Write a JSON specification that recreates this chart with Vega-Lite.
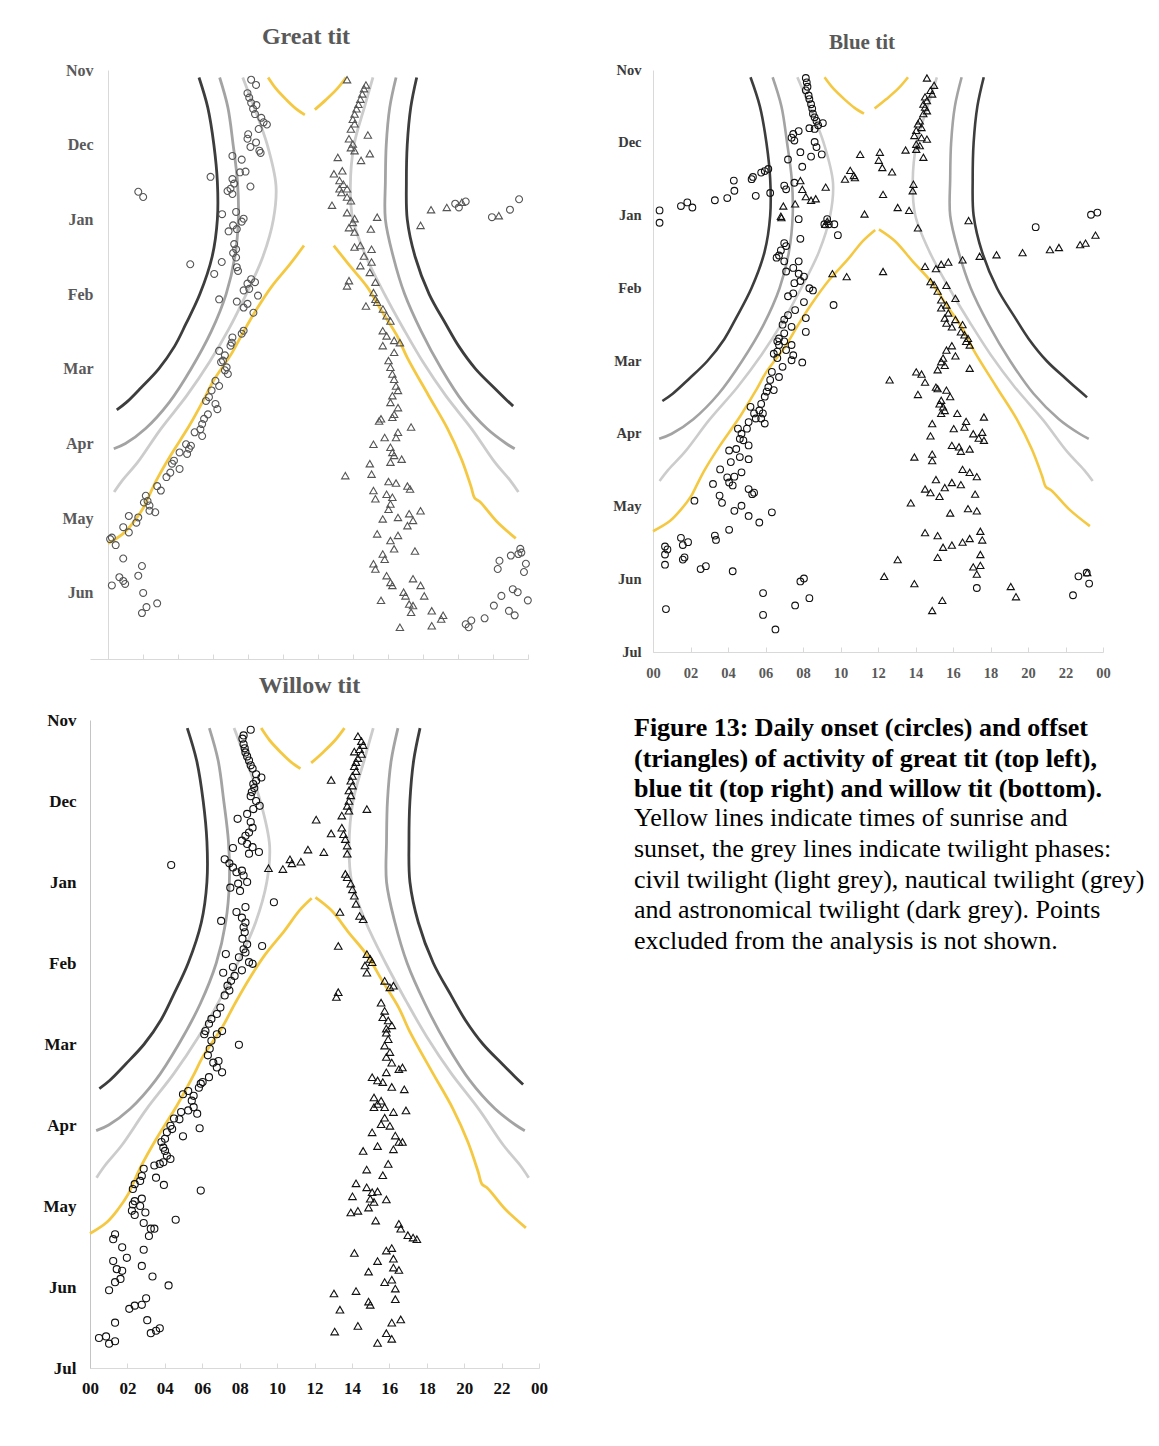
{
"$schema": "https://vega.github.io/schema/vega-lite/v6.json",
"background": "white",
"padding": {"left": 42, "top": 25, "right": 5, "bottom": 5},
"columns": 2,
"spacing": {"row": 61, "column": 114},
"bounds": "flush",
"align": "each",
"config": {
  "view": {"stroke": null},
  "axis": {"grid": false, "title": null, "labelFont": "Liberation Serif", "labelFontWeight": "bold", "domainColor": "#d9d9d9", "tickColor": "#d9d9d9", "labelFlush": false, "labelOverlap": false, "labelBound": false},
  "title": {"font": "Liberation Serif", "fontWeight": "bold", "color": "#595959"}
},
"datasets": {
"lines": [
{"l":"ad","t":"astro","m":0.1,"h":5.2},{"l":"ad","t":"astro","m":0.5,"h":5.7},{"l":"ad","t":"astro","m":1.0,"h":6.05},{"l":"ad","t":"astro","m":1.5,"h":6.25},{"l":"ad","t":"astro","m":2.0,"h":6.25},{"l":"ad","t":"astro","m":2.5,"h":5.95},{"l":"ad","t":"astro","m":3.0,"h":5.25},{"l":"ad","t":"astro","m":3.4,"h":4.45},{"l":"ad","t":"astro","m":3.7,"h":3.8},{"l":"ad","t":"astro","m":4.0,"h":2.9},{"l":"ad","t":"astro","m":4.25,"h":1.9},{"l":"ad","t":"astro","m":4.45,"h":1.05},{"l":"ad","t":"astro","m":4.55,"h":0.5},
{"l":"as","t":"astro","m":0.1,"h":17.64},{"l":"as","t":"astro","m":0.5,"h":17.3},{"l":"as","t":"astro","m":1.0,"h":17.1},{"l":"as","t":"astro","m":1.5,"h":17.05},{"l":"as","t":"astro","m":2.0,"h":17.1},{"l":"as","t":"astro","m":2.5,"h":17.55},{"l":"as","t":"astro","m":3.0,"h":18.35},{"l":"as","t":"astro","m":3.4,"h":19.3},{"l":"as","t":"astro","m":3.7,"h":20.05},{"l":"as","t":"astro","m":4.0,"h":21.0},{"l":"as","t":"astro","m":4.25,"h":22.05},{"l":"as","t":"astro","m":4.4,"h":22.7},{"l":"as","t":"astro","m":4.5,"h":23.15},
{"l":"nd","t":"naut","m":0.1,"h":6.38},{"l":"nd","t":"naut","m":0.5,"h":6.85},{"l":"nd","t":"naut","m":1.0,"h":7.15},{"l":"nd","t":"naut","m":1.5,"h":7.4},{"l":"nd","t":"naut","m":2.0,"h":7.45},{"l":"nd","t":"naut","m":2.5,"h":7.25},{"l":"nd","t":"naut","m":3.0,"h":6.75},{"l":"nd","t":"naut","m":3.5,"h":5.9},{"l":"nd","t":"naut","m":4.0,"h":4.75},{"l":"nd","t":"naut","m":4.45,"h":3.5},{"l":"nd","t":"naut","m":4.8,"h":2.15},{"l":"nd","t":"naut","m":5.0,"h":1.0},{"l":"nd","t":"naut","m":5.07,"h":0.33},
{"l":"ns","t":"naut","m":0.1,"h":16.46},{"l":"ns","t":"naut","m":0.5,"h":16.1},{"l":"ns","t":"naut","m":1.0,"h":15.9},{"l":"ns","t":"naut","m":1.5,"h":15.85},{"l":"ns","t":"naut","m":2.0,"h":15.85},{"l":"ns","t":"naut","m":2.5,"h":16.3},{"l":"ns","t":"naut","m":3.0,"h":16.95},{"l":"ns","t":"naut","m":3.5,"h":17.9},{"l":"ns","t":"naut","m":4.0,"h":19.05},{"l":"ns","t":"naut","m":4.45,"h":20.3},{"l":"ns","t":"naut","m":4.8,"h":21.65},{"l":"ns","t":"naut","m":5.0,"h":22.75},{"l":"ns","t":"naut","m":5.07,"h":23.24},
{"l":"cd","t":"civil","m":0.1,"h":7.7},{"l":"cd","t":"civil","m":0.5,"h":8.35},{"l":"cd","t":"civil","m":1.0,"h":9.1},{"l":"cd","t":"civil","m":1.55,"h":9.6},{"l":"cd","t":"civil","m":2.0,"h":9.45},{"l":"cd","t":"civil","m":2.5,"h":8.85},{"l":"cd","t":"civil","m":3.0,"h":7.9},{"l":"cd","t":"civil","m":3.47,"h":6.9},{"l":"cd","t":"civil","m":3.91,"h":5.8},{"l":"cd","t":"civil","m":4.36,"h":4.5},{"l":"cd","t":"civil","m":4.81,"h":3.0},{"l":"cd","t":"civil","m":5.25,"h":1.7},{"l":"cd","t":"civil","m":5.5,"h":0.8},{"l":"cd","t":"civil","m":5.65,"h":0.35},
{"l":"cs","t":"civil","m":0.1,"h":15.14},{"l":"cs","t":"civil","m":0.5,"h":14.65},{"l":"cs","t":"civil","m":1.0,"h":14.06},{"l":"cs","t":"civil","m":1.55,"h":13.85},{"l":"cs","t":"civil","m":2.0,"h":13.99},{"l":"cs","t":"civil","m":2.5,"h":14.75},{"l":"cs","t":"civil","m":3.0,"h":15.8},{"l":"cs","t":"civil","m":3.47,"h":16.9},{"l":"cs","t":"civil","m":3.91,"h":18.0},{"l":"cs","t":"civil","m":4.36,"h":19.3},{"l":"cs","t":"civil","m":4.81,"h":20.8},{"l":"cs","t":"civil","m":5.25,"h":22.1},{"l":"cs","t":"civil","m":5.5,"h":23.0},{"l":"cs","t":"civil","m":5.65,"h":23.45},
{"l":"rt","t":"sun","m":0.1,"h":9.15},{"l":"rt","t":"sun","m":0.25,"h":9.6},{"l":"rt","t":"sun","m":0.4,"h":10.2},{"l":"rt","t":"sun","m":0.52,"h":10.75},{"l":"rt","t":"sun","m":0.6,"h":11.25},
{"l":"st","t":"sun","m":0.1,"h":13.6},{"l":"st","t":"sun","m":0.25,"h":13.1},{"l":"st","t":"sun","m":0.4,"h":12.45},{"l":"st","t":"sun","m":0.53,"h":11.82},
{"l":"rb","t":"sun","m":2.2,"h":11.85},{"l":"rb","t":"sun","m":2.35,"h":11.2},{"l":"rb","t":"sun","m":2.6,"h":10.4},{"l":"rb","t":"sun","m":2.9,"h":9.35},{"l":"rb","t":"sun","m":3.2,"h":8.5},{"l":"rb","t":"sun","m":3.5,"h":7.75},{"l":"rb","t":"sun","m":3.8,"h":7.05},{"l":"rb","t":"sun","m":4.15,"h":6.05},{"l":"rb","t":"sun","m":4.4,"h":5.5},{"l":"rb","t":"sun","m":4.76,"h":4.65},{"l":"rb","t":"sun","m":5.17,"h":3.55},{"l":"rb","t":"sun","m":5.5,"h":2.75},{"l":"rb","t":"sun","m":5.75,"h":2.25},{"l":"rb","t":"sun","m":5.85,"h":2.05},{"l":"rb","t":"sun","m":6.04,"h":1.5},{"l":"rb","t":"sun","m":6.2,"h":0.9},{"l":"rb","t":"sun","m":6.34,"h":0.0},
{"l":"sb","t":"sun","m":2.19,"h":12.05},{"l":"sb","t":"sun","m":2.35,"h":12.9},{"l":"sb","t":"sun","m":2.63,"h":13.85},{"l":"sb","t":"sun","m":2.9,"h":14.8},{"l":"sb","t":"sun","m":3.23,"h":15.65},{"l":"sb","t":"sun","m":3.55,"h":16.5},{"l":"sb","t":"sun","m":3.85,"h":17.1},{"l":"sb","t":"sun","m":4.35,"h":18.3},{"l":"sb","t":"sun","m":4.8,"h":19.4},{"l":"sb","t":"sun","m":5.21,"h":20.2},{"l":"sb","t":"sun","m":5.58,"h":20.75},{"l":"sb","t":"sun","m":5.73,"h":20.95},{"l":"sb","t":"sun","m":5.78,"h":21.25},{"l":"sb","t":"sun","m":6.04,"h":22.2},{"l":"sb","t":"sun","m":6.27,"h":23.3}
],
"g_on": [
{"h":8.18,"m":0.13},{"h":8.46,"m":0.2},{"h":7.97,"m":0.31},{"h":8.07,"m":0.37},{"h":8.18,"m":0.44},{"h":8.48,"m":0.47},{"h":8.29,"m":0.52},{"h":8.4,"m":0.59},{"h":8.76,"m":0.64},{"h":8.89,"m":0.7},{"h":9.08,"m":0.73},{"h":8.61,"m":0.79},{"h":8.01,"m":0.86},{"h":7.97,"m":0.92},{"h":8.46,"m":0.97},{"h":8.14,"m":1.03},{"h":8.65,"m":1.08},{"h":8.72,"m":1.11},{"h":7.11,"m":1.15},{"h":7.64,"m":1.2},{"h":7.86,"m":1.36},{"h":7.54,"m":1.37},{"h":5.86,"m":1.43},{"h":7.11,"m":1.46},{"h":7.21,"m":1.52},{"h":8.14,"m":1.56},{"h":7.0,"m":1.59},{"h":6.83,"m":1.62},{"h":7.11,"m":1.66},{"h":1.73,"m":1.63},{"h":2.01,"m":1.7},{"h":7.32,"m":1.9},{"h":6.52,"m":1.93},{"h":7.75,"m":1.99},{"h":7.15,"m":2.08},{"h":7.64,"m":2.03},{"h":6.89,"m":2.16},{"h":7.36,"m":2.13},{"h":7.21,"m":2.33},{"h":7.32,"m":2.4},{"h":7.15,"m":2.45},{"h":7.32,"m":2.51},{"h":4.7,"m":2.6},{"h":6.5,"m":2.57},{"h":7.36,"m":2.64},{"h":7.43,"m":2.69},{"h":6.07,"m":2.73},{"h":8.18,"m":2.8},{"h":7.97,"m":2.86},{"h":8.4,"m":2.84},{"h":8.07,"m":2.93},{"h":7.75,"m":2.95},{"h":8.57,"m":3.02},{"h":6.35,"m":3.07},{"h":7.36,"m":3.1},{"h":7.97,"m":3.13},{"h":7.75,"m":3.18},{"h":8.31,"m":3.25},
{"h":19.84,"m":1.79},{"h":20.05,"m":1.84},{"h":20.44,"m":1.76},{"h":21.94,"m":1.97},{"h":22.97,"m":1.87},{"h":23.49,"m":1.73},
{"h":7.75,"m":3.49},{"h":7.64,"m":3.53},{"h":7.11,"m":3.58},{"h":7.07,"m":3.65},{"h":7.0,"m":3.69},{"h":6.35,"m":3.76},{"h":6.68,"m":3.82},{"h":6.57,"m":3.89},{"h":6.46,"m":3.91},{"h":6.78,"m":3.98},{"h":6.68,"m":4.02},{"h":6.85,"m":4.07},{"h":6.14,"m":4.16},{"h":6.35,"m":4.23},{"h":5.92,"m":4.29},{"h":5.77,"m":4.38},{"h":5.6,"m":4.43},{"h":6.14,"m":4.47},{"h":6.25,"m":4.54},{"h":5.71,"m":4.61},{"h":5.49,"m":4.67},{"h":5.38,"m":4.74},{"h":5.28,"m":4.81},{"h":4.95,"m":4.85},{"h":5.38,"m":4.9},{"h":4.74,"m":5.03},{"h":4.46,"m":5.01},{"h":4.63,"m":5.07},{"h":4.52,"m":5.14},{"h":4.09,"m":5.12},{"h":3.77,"m":5.23},{"h":3.66,"m":5.27},{"h":4.09,"m":5.34},{"h":3.56,"m":5.39},{"h":3.34,"m":5.45},{"h":2.81,"m":5.57},{"h":3.02,"m":5.63},{"h":2.16,"m":5.7},{"h":2.26,"m":5.77},{"h":2.05,"m":5.79},{"h":2.37,"m":5.83},{"h":2.37,"m":5.9},{"h":2.7,"m":5.92},{"h":1.73,"m":5.99},{"h":1.62,"m":6.06},{"h":1.19,"m":5.97},{"h":0.87,"m":6.12},{"h":1.19,"m":6.19},{"h":0.22,"m":6.26},{"h":0.12,"m":6.28},{"h":0.44,"m":6.36},{"h":0.87,"m":6.54},{"h":1.94,"m":6.64},{"h":1.73,"m":6.77},{"h":0.65,"m":6.79},{"h":0.87,"m":6.84},{"h":0.22,"m":6.9},{"h":0.98,"m":6.88},{"h":2.01,"m":7.0},{"h":2.81,"m":7.14},{"h":2.2,"m":7.19},{"h":1.94,"m":7.27},
{"h":23.56,"m":6.41},{"h":23.62,"m":6.46},{"h":23.45,"m":6.48},{"h":23.02,"m":6.5},{"h":22.37,"m":6.57},{"h":22.27,"m":6.68},{"h":23.88,"m":6.61},{"h":23.77,"m":6.72},{"h":22.48,"m":7.04},{"h":22.05,"m":7.17},{"h":23.13,"m":6.95},{"h":23.41,"m":6.99},{"h":23.99,"m":7.1},{"h":22.91,"m":7.24},{"h":23.24,"m":7.3},{"h":21.52,"m":7.34},{"h":20.76,"m":7.37},{"h":20.44,"m":7.42},{"h":20.61,"m":7.46}
],
"g_off": [
{"h":13.66,"m":0.13},{"h":14.74,"m":0.2},{"h":14.63,"m":0.25},{"h":14.53,"m":0.32},{"h":14.42,"m":0.39},{"h":14.31,"m":0.46},{"h":14.2,"m":0.52},{"h":14.09,"m":0.59},{"h":13.99,"m":0.66},{"h":14.09,"m":0.72},{"h":13.88,"m":0.79},{"h":13.77,"m":0.92},{"h":13.99,"m":0.99},{"h":13.88,"m":1.04},{"h":14.09,"m":1.08},{"h":14.85,"m":0.87},{"h":14.96,"m":1.12},{"h":14.46,"m":1.21},{"h":13.13,"m":1.17},{"h":12.91,"m":1.39},{"h":13.39,"m":1.35},{"h":13.23,"m":1.48},{"h":13.45,"m":1.53},{"h":13.23,"m":1.59},{"h":13.66,"m":1.59},{"h":13.34,"m":1.64},{"h":13.66,"m":1.7},{"h":13.88,"m":1.75},{"h":12.8,"m":1.81},{"h":13.66,"m":1.91},{"h":14.09,"m":1.99},{"h":15.38,"m":1.97},{"h":13.99,"m":2.04},{"h":13.77,"m":2.11},{"h":14.09,"m":2.17},{"h":15.02,"m":2.13},{"h":14.42,"m":2.35},{"h":14.09,"m":2.37},{"h":14.63,"m":2.49},{"h":15.06,"m":2.4},{"h":15.06,"m":2.57},{"h":14.42,"m":2.62},{"h":14.96,"m":2.71},{"h":15.28,"m":2.84},{"h":13.77,"m":2.82},{"h":13.66,"m":2.89},{"h":15.17,"m":2.98},{"h":15.28,"m":3.07},{"h":14.74,"m":3.16},{"h":15.38,"m":3.11},{"h":15.71,"m":3.2},{"h":15.92,"m":3.29},{"h":16.14,"m":3.36},
{"h":17.86,"m":2.08},{"h":18.46,"m":1.87},{"h":19.36,"m":1.84},{"h":20.22,"m":1.77},{"h":22.33,"m":1.95},
{"h":15.7,"m":3.49},{"h":15.92,"m":3.56},{"h":16.35,"m":3.62},{"h":16.68,"m":3.65},{"h":15.7,"m":3.69},{"h":16.35,"m":3.78},{"h":16.03,"m":3.89},{"h":16.14,"m":3.98},{"h":16.25,"m":4.07},{"h":16.35,"m":4.14},{"h":16.46,"m":4.23},{"h":16.57,"m":4.29},{"h":16.25,"m":4.36},{"h":16.14,"m":4.45},{"h":16.57,"m":4.52},{"h":16.35,"m":4.61},{"h":16.25,"m":4.65},{"h":15.6,"m":4.67},{"h":15.49,"m":4.7},{"h":17.32,"m":4.78},{"h":16.57,"m":4.85},{"h":16.46,"m":4.92},{"h":15.81,"m":4.92},{"h":15.17,"m":5.01},{"h":16.14,"m":5.05},{"h":16.25,"m":5.12},{"h":16.35,"m":5.16},{"h":16.78,"m":5.21},{"h":16.14,"m":5.25},{"h":14.96,"m":5.27},{"h":15.06,"m":5.41},{"h":13.56,"m":5.43},{"h":16.03,"m":5.51},{"h":16.46,"m":5.53},{"h":17.11,"m":5.57},{"h":17.26,"m":5.61},{"h":15.17,"m":5.63},{"h":15.92,"m":5.68},{"h":16.25,"m":5.72},{"h":15.28,"m":5.74},{"h":16.14,"m":5.81},{"h":16.03,"m":5.88},{"h":17.86,"m":5.9},{"h":17.21,"m":5.94},{"h":16.57,"m":5.99},{"h":15.7,"m":6.01},{"h":17.43,"m":6.03},{"h":17.11,"m":6.1},{"h":15.38,"m":6.21},{"h":16.57,"m":6.23},{"h":16.14,"m":6.3},{"h":16.35,"m":6.41},{"h":17.54,"m":6.44},{"h":15.7,"m":6.48},{"h":15.81,"m":6.55},{"h":15.17,"m":6.61},{"h":15.28,"m":6.68},{"h":15.92,"m":6.77},{"h":16.14,"m":6.86},{"h":16.25,"m":6.9},{"h":17.43,"m":6.81},{"h":17.86,"m":6.9},{"h":18.07,"m":7.04},{"h":16.89,"m":6.99},{"h":17.0,"m":7.04},{"h":17.21,"m":7.15},{"h":17.43,"m":7.17},{"h":17.32,"m":7.26},{"h":18.5,"m":7.24},{"h":19.15,"m":7.3},{"h":19.04,"m":7.35},{"h":18.5,"m":7.44},{"h":16.68,"m":7.46},{"h":15.6,"m":7.1}
],
"b_on": [
{"h":8.15,"m":0.11},{"h":8.2,"m":0.17},{"h":8.24,"m":0.23},{"h":8.15,"m":0.28},{"h":8.3,"m":0.35},{"h":8.34,"m":0.4},{"h":8.43,"m":0.47},{"h":8.49,"m":0.53},{"h":8.53,"m":0.6},{"h":8.62,"m":0.65},{"h":8.72,"m":0.7},{"h":9.06,"m":0.73},{"h":8.81,"m":0.76},{"h":8.34,"m":0.8},{"h":8.62,"m":0.81},{"h":7.77,"m":0.84},{"h":7.48,"m":0.88},{"h":7.39,"m":0.93},{"h":7.54,"m":0.97},{"h":8.62,"m":0.99},{"h":8.72,"m":1.06},{"h":9.0,"m":1.16},{"h":8.43,"m":1.19},{"h":7.86,"m":1.13},{"h":7.2,"m":1.23},{"h":7.96,"m":1.33},{"h":7.54,"m":1.55},{"h":7.0,"m":1.59},{"h":7.1,"m":1.64},{"h":6.25,"m":1.69},{"h":5.48,"m":1.73},{"h":4.31,"m":1.52},{"h":4.34,"m":1.66},{"h":5.26,"m":1.5},{"h":5.33,"m":1.47},{"h":5.77,"m":1.41},{"h":5.96,"m":1.39},{"h":6.15,"m":1.36},{"h":3.96,"m":1.76},{"h":3.3,"m":1.79},{"h":2.1,"m":1.89},{"h":1.83,"m":1.82},{"h":1.49,"m":1.87},{"h":0.35,"m":1.93},{"h":0.35,"m":2.1},{"h":7.77,"m":2.05},{"h":9.29,"m":2.05},{"h":9.14,"m":2.12},{"h":9.38,"m":2.12},{"h":9.67,"m":2.12},{"h":9.86,"m":2.27},{"h":7.86,"m":2.32},{"h":7.0,"m":2.38},{"h":7.1,"m":2.42},{"h":6.82,"m":2.48},{"h":6.72,"m":2.55},{"h":6.59,"m":2.58},{"h":7.0,"m":2.63},{"h":7.77,"m":2.63},{"h":7.48,"m":2.72},{"h":7.1,"m":2.77},{"h":7.77,"m":2.8},{"h":8.05,"m":2.84},{"h":7.86,"m":2.9},{"h":7.54,"m":2.93},{"h":8.53,"m":3.03},{"h":8.34,"m":3.0},{"h":7.48,"m":3.07},{"h":7.2,"m":3.11},{"h":8.05,"m":3.19},{"h":9.63,"m":3.23},{"h":7.58,"m":3.3},{"h":7.2,"m":3.37},{"h":7.0,"m":3.43},{"h":6.91,"m":3.5},{"h":7.39,"m":3.53},{"h":8.15,"m":3.6},{"h":7.0,"m":3.62},{"h":6.72,"m":3.69},{"h":7.0,"m":3.73},{"h":7.39,"m":3.78},{"h":8.15,"m":3.41},
{"h":20.41,"m":2.16},{"h":23.36,"m":1.99},{"h":23.7,"m":1.96},
{"h":6.63,"m":3.73},{"h":6.72,"m":3.78},{"h":7.1,"m":3.85},{"h":7.48,"m":3.92},{"h":6.44,"m":3.9},{"h":6.63,"m":3.96},{"h":7.39,"m":3.99},{"h":7.96,"m":4.02},{"h":6.34,"m":4.15},{"h":6.25,"m":4.26},{"h":6.15,"m":4.36},{"h":6.06,"m":4.42},{"h":6.44,"m":4.4},{"h":6.72,"m":4.22},{"h":6.91,"m":4.08},{"h":6.63,"m":3.87},{"h":5.96,"m":4.49},{"h":5.77,"m":4.59},{"h":5.67,"m":4.68},{"h":5.39,"m":4.72},{"h":5.2,"m":4.63},{"h":5.86,"m":4.72},{"h":5.77,"m":4.79},{"h":5.48,"m":4.79},{"h":5.1,"m":4.84},{"h":5.96,"m":4.86},{"h":5.01,"m":4.93},{"h":4.53,"m":4.93},{"h":4.72,"m":5.0},{"h":4.63,"m":5.07},{"h":4.82,"m":5.09},{"h":5.1,"m":5.16},{"h":4.06,"m":5.23},{"h":4.44,"m":5.21},{"h":4.15,"m":5.39},{"h":4.63,"m":5.32},{"h":5.1,"m":5.35},{"h":3.58,"m":5.49},{"h":3.96,"m":5.6},{"h":4.34,"m":5.59},{"h":4.25,"m":5.71},{"h":4.06,"m":5.67},{"h":4.72,"m":5.53},{"h":5.1,"m":5.76},{"h":5.29,"m":5.83},{"h":5.39,"m":5.81},{"h":3.2,"m":5.69},{"h":3.55,"m":5.85},{"h":3.68,"m":5.95},{"h":2.21,"m":5.92},{"h":4.34,"m":6.06},{"h":4.72,"m":5.99},{"h":5.1,"m":6.13},{"h":5.67,"m":6.22},{"h":6.34,"m":6.08},{"h":4.06,"m":6.32},{"h":1.49,"m":6.43},{"h":1.59,"m":6.53},{"h":1.87,"m":6.49},{"h":0.64,"m":6.55},{"h":0.77,"m":6.59},{"h":0.64,"m":6.66},{"h":0.64,"m":6.8},{"h":1.68,"m":6.7},{"h":1.59,"m":6.73},{"h":3.3,"m":6.4},{"h":3.36,"m":6.46},{"h":2.54,"m":6.86},{"h":2.82,"m":6.82},{"h":4.25,"m":6.89},{"h":5.87,"m":7.19},{"h":8.05,"m":6.99},{"h":7.86,"m":7.03},{"h":8.34,"m":7.26},{"h":7.58,"m":7.36},{"h":5.87,"m":7.49},{"h":6.53,"m":7.69},{"h":0.69,"m":7.41},
{"h":22.69,"m":6.96},{"h":22.4,"m":7.22},{"h":23.26,"m":7.06},{"h":23.13,"m":6.91},{"h":17.27,"m":7.12}
],
"b_off": [
{"h":14.61,"m":0.11},{"h":14.99,"m":0.21},{"h":14.8,"m":0.28},{"h":14.89,"m":0.33},{"h":14.51,"m":0.37},{"h":14.61,"m":0.42},{"h":14.42,"m":0.47},{"h":14.51,"m":0.51},{"h":14.61,"m":0.56},{"h":14.42,"m":0.6},{"h":14.23,"m":0.7},{"h":14.13,"m":0.74},{"h":14.32,"m":0.79},{"h":14.04,"m":0.83},{"h":13.94,"m":0.9},{"h":14.32,"m":0.93},{"h":14.61,"m":0.95},{"h":14.04,"m":1.02},{"h":14.23,"m":1.04},{"h":14.04,"m":1.09},{"h":14.42,"m":1.2},{"h":13.47,"m":1.1},{"h":12.1,"m":1.13},{"h":12.04,"m":1.24},{"h":12.23,"m":1.34},{"h":12.75,"m":1.4},{"h":11.05,"m":1.16},{"h":10.52,"m":1.38},{"h":10.24,"m":1.5},{"h":10.71,"m":1.45},{"h":10.77,"m":1.48},{"h":9.21,"m":1.61},{"h":7.86,"m":1.52},{"h":7.96,"m":1.64},{"h":8.15,"m":1.74},{"h":8.43,"m":1.79},{"h":8.68,"m":1.77},{"h":6.95,"m":1.87},{"h":7.58,"m":1.84},{"h":6.82,"m":2.01},{"h":6.85,"m":2.03},{"h":9.19,"m":2.12},{"h":9.29,"m":2.08},{"h":11.28,"m":1.98},{"h":12.27,"m":1.71},{"h":13.05,"m":1.89},{"h":13.66,"m":1.93},{"h":13.85,"m":1.66},{"h":13.89,"m":1.57},{"h":14.13,"m":2.17},{"h":16.83,"m":2.07},{"h":14.51,"m":2.7},{"h":15.09,"m":2.73},{"h":15.37,"m":2.67},{"h":15.75,"m":2.64},{"h":16.51,"m":2.61},{"h":17.42,"m":2.56},{"h":18.32,"m":2.54},{"h":19.71,"m":2.51},{"h":21.17,"m":2.47},{"h":21.65,"m":2.44},{"h":22.78,"m":2.4},{"h":23.07,"m":2.38},{"h":23.6,"m":2.27},{"h":9.57,"m":2.8},{"h":10.33,"m":2.84},{"h":12.27,"m":2.77},{"h":14.8,"m":2.91},{"h":14.99,"m":2.95},{"h":15.65,"m":2.96},{"h":15.18,"m":3.04},{"h":15.37,"m":3.16},{"h":15.65,"m":3.23},{"h":16.13,"m":3.14},{"h":15.37,"m":3.27},{"h":15.75,"m":3.34},{"h":15.56,"m":3.41},{"h":15.65,"m":3.48},{"h":15.94,"m":3.53},{"h":16.13,"m":3.43},{"h":16.51,"m":3.5},{"h":16.42,"m":3.6},{"h":16.61,"m":3.64},{"h":16.8,"m":3.69},{"h":16.89,"m":3.78},
{"h":16.7,"m":3.73},{"h":15.94,"m":3.79},{"h":15.65,"m":3.85},{"h":16.13,"m":3.93},{"h":15.47,"m":3.96},{"h":15.37,"m":4.01},{"h":15.56,"m":4.06},{"h":15.18,"m":4.12},{"h":16.89,"m":4.1},{"h":14.04,"m":4.15},{"h":14.32,"m":4.18},{"h":14.51,"m":4.29},{"h":15.09,"m":4.36},{"h":15.18,"m":4.38},{"h":14.13,"m":4.46},{"h":15.65,"m":4.4},{"h":15.85,"m":4.49},{"h":15.37,"m":4.54},{"h":15.28,"m":4.59},{"h":15.47,"m":4.63},{"h":15.56,"m":4.68},{"h":15.37,"m":4.72},{"h":14.89,"m":4.86},{"h":16.23,"m":4.72},{"h":16.7,"m":4.83},{"h":17.65,"m":4.77},{"h":16.04,"m":4.93},{"h":16.61,"m":4.91},{"h":17.08,"m":5.0},{"h":17.56,"m":4.98},{"h":17.37,"m":5.06},{"h":17.65,"m":5.09},{"h":14.8,"m":5.03},{"h":15.94,"m":5.16},{"h":16.32,"m":5.18},{"h":16.89,"m":5.21},{"h":16.42,"m":5.24},{"h":13.94,"m":5.32},{"h":14.89,"m":5.28},{"h":14.89,"m":5.37},{"h":16.51,"m":5.49},{"h":16.89,"m":5.53},{"h":17.27,"m":5.59},{"h":15.09,"m":5.63},{"h":15.94,"m":5.67},{"h":16.42,"m":5.7},{"h":14.51,"m":5.76},{"h":14.8,"m":5.81},{"h":15.56,"m":5.74},{"h":15.28,"m":5.86},{"h":17.18,"m":5.83},{"h":13.75,"m":5.95},{"h":15.85,"m":6.09},{"h":16.8,"m":6.03},{"h":17.27,"m":6.06},{"h":14.51,"m":6.36},{"h":15.18,"m":6.4},{"h":17.46,"m":6.34},{"h":17.56,"m":6.46},{"h":16.89,"m":6.44},{"h":16.51,"m":6.49},{"h":15.94,"m":6.53},{"h":15.47,"m":6.56},{"h":15.18,"m":6.7},{"h":17.46,"m":6.66},{"h":17.08,"m":6.83},{"h":17.46,"m":6.81},{"h":17.27,"m":6.93},{"h":13.05,"m":6.73},{"h":12.33,"m":6.96},{"h":13.94,"m":7.06},{"h":19.08,"m":7.1},{"h":19.36,"m":7.24},{"h":15.43,"m":7.29},{"h":14.89,"m":7.43},{"h":23.16,"m":6.91},{"h":12.62,"m":4.26}
],
"w_on": [
{"h":8.59,"m":0.12},{"h":8.21,"m":0.19},{"h":8.15,"m":0.23},{"h":8.21,"m":0.3},{"h":8.27,"m":0.35},{"h":8.31,"m":0.4},{"h":8.4,"m":0.45},{"h":8.5,"m":0.5},{"h":8.59,"m":0.56},{"h":8.69,"m":0.6},{"h":8.88,"m":0.67},{"h":9.16,"m":0.71},{"h":8.88,"m":0.75},{"h":8.73,"m":0.79},{"h":8.78,"m":0.84},{"h":8.65,"m":0.89},{"h":8.59,"m":0.94},{"h":8.88,"m":1.0},{"h":9.07,"m":1.06},{"h":8.73,"m":1.1},{"h":8.4,"m":1.16},{"h":7.89,"m":1.22},{"h":8.59,"m":1.26},{"h":8.69,"m":1.33},{"h":8.5,"m":1.39},{"h":8.31,"m":1.43},{"h":8.12,"m":1.49},{"h":8.4,"m":1.53},{"h":8.69,"m":1.57},{"h":9.03,"m":1.63},{"h":8.5,"m":1.65},{"h":7.64,"m":1.58},{"h":7.2,"m":1.72},{"h":7.45,"m":1.77},{"h":7.64,"m":1.82},{"h":7.83,"m":1.88},{"h":8.12,"m":1.86},{"h":8.21,"m":1.92},{"h":8.4,"m":2.0},{"h":7.92,"m":2.02},{"h":7.5,"m":2.07},{"h":8.02,"m":2.11},{"h":4.34,"m":1.79},{"h":8.31,"m":2.31},{"h":7.83,"m":2.37},{"h":8.12,"m":2.44},{"h":8.31,"m":2.5},{"h":8.21,"m":2.56},{"h":8.27,"m":2.62},{"h":8.15,"m":2.7},{"h":8.4,"m":2.77},{"h":8.21,"m":2.83},{"h":8.31,"m":2.87},{"h":7.96,"m":2.93},{"h":8.5,"m":2.99},{"h":8.69,"m":3.01},{"h":7.26,"m":2.89},{"h":7.64,"m":3.05},{"h":7.12,"m":3.12},{"h":8.12,"m":3.09},{"h":7.73,"m":3.16},{"h":7.54,"m":3.22},{"h":7.35,"m":3.28},{"h":7.45,"m":3.34},{"h":7.2,"m":3.4},{"h":6.97,"m":3.55},{"h":6.78,"m":3.63},{"h":6.49,"m":3.69},{"h":6.36,"m":3.75},{"h":6.17,"m":3.84},{"h":7.01,"m":2.48},{"h":9.83,"m":2.25},{"h":9.2,"m":2.79},
{"h":7.06,"m":3.84},{"h":6.78,"m":3.88},{"h":6.11,"m":3.88},{"h":6.49,"m":3.96},{"h":6.4,"m":4.06},{"h":6.3,"m":4.14},{"h":6.59,"m":4.23},{"h":6.87,"m":4.21},{"h":6.78,"m":4.29},{"h":7.06,"m":4.35},{"h":7.96,"m":4.01},{"h":6.36,"m":4.41},{"h":6.02,"m":4.47},{"h":5.92,"m":4.49},{"h":5.82,"m":4.54},{"h":4.97,"m":4.62},{"h":5.25,"m":4.58},{"h":5.54,"m":4.64},{"h":5.44,"m":4.7},{"h":5.54,"m":4.78},{"h":5.25,"m":4.82},{"h":5.73,"m":4.86},{"h":4.87,"m":4.84},{"h":4.78,"m":4.93},{"h":4.49,"m":4.92},{"h":4.3,"m":5.01},{"h":4.39,"m":5.05},{"h":4.11,"m":5.09},{"h":4.01,"m":5.17},{"h":3.82,"m":5.21},{"h":3.92,"m":5.28},{"h":4.01,"m":5.32},{"h":4.11,"m":5.38},{"h":4.3,"m":5.42},{"h":3.92,"m":5.46},{"h":3.73,"m":5.48},{"h":3.44,"m":5.5},{"h":3.53,"m":5.65},{"h":3.95,"m":5.74},{"h":4.97,"m":5.14},{"h":5.86,"m":5.04},{"h":5.92,"m":5.81},{"h":2.87,"m":5.54},{"h":2.77,"m":5.63},{"h":2.68,"m":5.69},{"h":2.39,"m":5.73},{"h":2.29,"m":5.79},{"h":2.77,"m":5.91},{"h":2.39,"m":5.94},{"h":2.29,"m":5.98},{"h":2.68,"m":6.0},{"h":2.24,"m":6.06},{"h":2.39,"m":6.11},{"h":2.96,"m":6.08},{"h":2.87,"m":6.21},{"h":3.25,"m":6.28},{"h":3.15,"m":6.37},{"h":3.44,"m":6.28},{"h":4.58,"m":6.17},{"h":1.34,"m":6.35},{"h":1.24,"m":6.41},{"h":1.72,"m":6.51},{"h":2.87,"m":6.54},{"h":1.97,"m":6.64},{"h":1.24,"m":6.68},{"h":1.43,"m":6.78},{"h":1.72,"m":6.8},{"h":1.34,"m":6.94},{"h":1.63,"m":6.9},{"h":1.02,"m":7.04},{"h":2.77,"m":6.74},{"h":3.34,"m":6.87},{"h":4.2,"m":6.98},{"h":3.0,"m":7.14},{"h":2.77,"m":7.22},{"h":2.1,"m":7.27},{"h":2.39,"m":7.23},{"h":3.06,"m":7.41},{"h":3.25,"m":7.57},{"h":3.53,"m":7.54},{"h":3.73,"m":7.51},{"h":1.34,"m":7.44},{"h":0.48,"m":7.63},{"h":0.86,"m":7.61},{"h":1.02,"m":7.7},{"h":1.34,"m":7.67}
],
"w_off": [
{"h":14.32,"m":0.2},{"h":14.51,"m":0.26},{"h":14.6,"m":0.31},{"h":14.41,"m":0.36},{"h":14.13,"m":0.39},{"h":14.51,"m":0.42},{"h":14.32,"m":0.47},{"h":14.22,"m":0.52},{"h":14.13,"m":0.57},{"h":14.22,"m":0.63},{"h":14.03,"m":0.69},{"h":13.94,"m":0.75},{"h":14.03,"m":0.81},{"h":13.84,"m":0.87},{"h":13.94,"m":0.93},{"h":13.84,"m":1.0},{"h":13.75,"m":1.06},{"h":13.84,"m":1.12},{"h":13.46,"m":1.18},{"h":12.89,"m":0.74},{"h":14.8,"m":1.1},{"h":12.09,"m":1.23},{"h":12.89,"m":1.4},{"h":13.46,"m":1.33},{"h":13.55,"m":1.41},{"h":13.65,"m":1.47},{"h":13.75,"m":1.55},{"h":13.75,"m":1.65},{"h":12.5,"m":1.63},{"h":11.65,"m":1.6},{"h":11.27,"m":1.75},{"h":10.69,"m":1.72},{"h":10.79,"m":1.77},{"h":10.31,"m":1.84},{"h":9.54,"m":1.83},{"h":13.65,"m":1.9},{"h":13.75,"m":1.94},{"h":13.94,"m":2.02},{"h":14.03,"m":2.09},{"h":14.13,"m":2.17},{"h":14.22,"m":2.27},{"h":13.36,"m":2.37},{"h":14.41,"m":2.42},{"h":14.6,"m":2.46},{"h":13.27,"m":2.79},{"h":14.8,"m":2.89},{"h":14.98,"m":2.95},{"h":14.7,"m":3.03},{"h":14.8,"m":3.12},{"h":15.08,"m":2.99},{"h":15.75,"m":3.22},{"h":16.03,"m":3.3},{"h":16.22,"m":3.28},{"h":13.27,"m":3.36},{"h":13.17,"m":3.42},{"h":15.56,"m":3.49},{"h":15.75,"m":3.59},{"h":15.65,"m":3.67},{"h":15.94,"m":3.71},{"h":16.13,"m":3.77},{"h":15.84,"m":3.81},
{"h":15.84,"m":3.86},{"h":15.94,"m":3.94},{"h":15.75,"m":4.02},{"h":16.03,"m":4.1},{"h":15.84,"m":4.16},{"h":16.13,"m":4.23},{"h":16.51,"m":4.31},{"h":16.7,"m":4.29},{"h":15.84,"m":4.35},{"h":15.08,"m":4.41},{"h":15.37,"m":4.45},{"h":15.65,"m":4.47},{"h":16.13,"m":4.53},{"h":16.8,"m":4.56},{"h":15.18,"m":4.66},{"h":15.56,"m":4.7},{"h":15.37,"m":4.74},{"h":15.18,"m":4.78},{"h":15.75,"m":4.78},{"h":16.22,"m":4.84},{"h":16.89,"m":4.82},{"h":15.75,"m":4.91},{"h":15.56,"m":4.99},{"h":16.03,"m":5.01},{"h":16.32,"m":5.13},{"h":16.51,"m":5.21},{"h":16.7,"m":5.21},{"h":15.08,"m":5.09},{"h":15.37,"m":5.26},{"h":16.22,"m":5.3},{"h":14.6,"m":5.32},{"h":15.94,"m":5.48},{"h":14.79,"m":5.55},{"h":15.65,"m":5.62},{"h":14.22,"m":5.72},{"h":14.79,"m":5.77},{"h":15.08,"m":5.83},{"h":15.37,"m":5.82},{"h":14.03,"m":5.88},{"h":14.98,"m":5.91},{"h":15.84,"m":5.92},{"h":15.18,"m":5.95},{"h":14.32,"m":6.06},{"h":13.94,"m":6.08},{"h":14.89,"m":6.02},{"h":15.27,"m":6.18},{"h":16.51,"m":6.22},{"h":16.61,"m":6.28},{"h":16.99,"m":6.36},{"h":17.27,"m":6.39},{"h":17.47,"m":6.41},{"h":14.13,"m":6.58},{"h":15.84,"m":6.55},{"h":16.13,"m":6.52},{"h":16.22,"m":6.65},{"h":15.37,"m":6.68},{"h":16.22,"m":6.76},{"h":16.51,"m":6.79},{"h":14.89,"m":6.81},{"h":15.75,"m":6.94},{"h":16.13,"m":6.91},{"h":16.32,"m":7.02},{"h":16.32,"m":7.15},{"h":13.04,"m":7.08},{"h":14.22,"m":7.05},{"h":14.89,"m":7.18},{"h":14.98,"m":7.22},{"h":13.36,"m":7.28},{"h":16.61,"m":7.4},{"h":16.13,"m":7.44},{"h":14.32,"m":7.48},{"h":13.08,"m":7.55},{"h":15.84,"m":7.57},{"h":16.13,"m":7.64},{"h":15.37,"m":7.69}
]
},
"concat": [
{
  "width": 438, "height": 589,
  "title": {"text": "Great tit", "fontSize": 24, "anchor": "middle", "frame": "group", "dx": -3, "offset": 13},
  "encoding": {
    "x": {"field": "h", "type": "quantitative", "scale": {"domain": [-1.0286, 24], "nice": false, "zero": false},
          "axis": {"values": [0,2,4,6,8,10,12,14,16,18,20,22,24], "labels": false, "tickSize": -5}},
    "y": {"field": "m", "type": "quantitative", "scale": {"domain": [0, 7.885], "reverse": true, "nice": false, "zero": false},
          "axis": {"values": [0,1,2,3,4,5,6,7], "labelExpr": "['Nov','Dec','Jan','Feb','Mar','Apr','May','Jun','Jul'][datum.value]", "ticks": false, "labelPadding": 15, "labelFontSize": 16, "labelColor": "#595959", "offset": -18}}
  },
  "layer": [
    {"data": {"name": "lines"}, "transform": [{"filter": "datum.t != 'sun' || datum.m < 1 || datum.m >= 2.3"}],
     "mark": {"type": "line", "strokeWidth": 2.8, "interpolate": "catmull-rom"},
     "encoding": {"detail": {"field": "l"}, "order": {"field": "m", "type": "quantitative"},
       "color": {"field": "t", "type": "nominal", "scale": {"domain": ["astro","naut","civil","sun"], "range": ["#3d3d3d","#a3a3a3","#cccccc","#f5c842"]}, "legend": null}}},
    {"data": {"name": "g_on"}, "mark": {"type": "point", "shape": "circle", "filled": false, "stroke": "#555555", "strokeWidth": 1.1, "size": 48, "opacity": 1}},
    {"data": {"name": "g_off"}, "mark": {"type": "point", "shape": "triangle-up", "filled": false, "stroke": "#555555", "strokeWidth": 1.1, "size": 55, "opacity": 1}}
  ]
},
{
  "width": 450, "height": 582,
  "title": {"text": "Blue tit", "fontSize": 21, "anchor": "middle", "frame": "group", "dx": -16, "offset": 9},
  "encoding": {
    "x": {"field": "h", "type": "quantitative", "scale": {"domain": [0, 24], "nice": false, "zero": false},
          "axis": {"values": [0,2,4,6,8,10,12,14,16,18,20,22,24], "labelExpr": "datum.value == 24 ? '00' : (datum.value < 10 ? '0' + datum.value : '' + datum.value)", "tickSize": -5, "labelPadding": 19, "labelFontSize": 14.5, "labelColor": "#595959"}},
    "y": {"field": "m", "type": "quantitative", "scale": {"domain": [0, 8], "reverse": true, "nice": false, "zero": false},
          "axis": {"values": [0,1,2,3,4,5,6,7,8], "labelExpr": "['Nov','Dec','Jan','Feb','Mar','Apr','May','Jun','Jul'][datum.value]", "ticks": false, "labelPadding": 12, "labelFontSize": 14.5, "labelColor": "#3a3a3a"}}
  },
  "layer": [
    {"data": {"name": "lines"},
     "mark": {"type": "line", "strokeWidth": 2.6, "interpolate": "catmull-rom"},
     "encoding": {"detail": {"field": "l"}, "order": {"field": "m", "type": "quantitative"},
       "color": {"field": "t", "type": "nominal", "scale": {"domain": ["astro","naut","civil","sun"], "range": ["#3d3d3d","#a3a3a3","#cccccc","#f5c842"]}, "legend": null}}},
    {"data": {"name": "b_on"}, "mark": {"type": "point", "shape": "circle", "filled": false, "stroke": "#111111", "strokeWidth": 1.1, "size": 45, "opacity": 1}},
    {"data": {"name": "b_off"}, "mark": {"type": "point", "shape": "triangle-up", "filled": false, "stroke": "#111111", "strokeWidth": 1.1, "size": 52, "opacity": 1}}
  ]
},
{
  "width": 449, "height": 648,
  "title": {"text": "Willow tit", "fontSize": 24, "anchor": "middle", "frame": "group", "dx": -5, "offset": 13},
  "encoding": {
    "x": {"field": "h", "type": "quantitative", "scale": {"domain": [0, 24], "nice": false, "zero": false},
          "axis": {"values": [0,2,4,6,8,10,12,14,16,18,20,22,24], "labelExpr": "datum.value == 24 ? '00' : (datum.value < 10 ? '0' + datum.value : '' + datum.value)", "tickSize": -5, "labelPadding": 17, "labelFontSize": 17, "labelColor": "#111111"}},
    "y": {"field": "m", "type": "quantitative", "scale": {"domain": [0, 8], "reverse": true, "nice": false, "zero": false},
          "axis": {"values": [0,1,2,3,4,5,6,7,8], "labelExpr": "['Nov','Dec','Jan','Feb','Mar','Apr','May','Jun','Jul'][datum.value]", "ticks": false, "labelPadding": 14, "labelFontSize": 17, "labelColor": "#111111", "domainColor": "#c4c4c4"}}
  },
  "layer": [
    {"data": {"name": "lines"},
     "mark": {"type": "line", "strokeWidth": 2.8, "interpolate": "catmull-rom"},
     "encoding": {"detail": {"field": "l"}, "order": {"field": "m", "type": "quantitative"},
       "color": {"field": "t", "type": "nominal", "scale": {"domain": ["astro","naut","civil","sun"], "range": ["#3d3d3d","#a3a3a3","#cccccc","#f5c842"]}, "legend": null}}},
    {"data": {"name": "w_on"}, "mark": {"type": "point", "shape": "circle", "filled": false, "stroke": "#111111", "strokeWidth": 1.1, "size": 50, "opacity": 1}},
    {"data": {"name": "w_off"}, "mark": {"type": "point", "shape": "triangle-up", "filled": false, "stroke": "#111111", "strokeWidth": 1.1, "size": 58, "opacity": 1}}
  ]
},
{
  "width": 450, "height": 1,
  "data": {"values": []},
  "mark": {"type": "point", "opacity": 0},
  "title": {
    "text": ["Figure 13: Daily onset (circles) and offset", "(triangles) of activity of great tit (top left),", "blue tit (top right) and willow tit (bottom)."],
    "subtitle": ["Yellow lines indicate times of sunrise and", "sunset, the grey lines indicate twilight phases:", "civil twilight (light grey), nautical twilight (grey)", "and astronomical twilight (dark grey). Points", "excluded from the analysis is not shown."],
    "orient": "bottom", "anchor": "start", "frame": "group", "dx": -19, "offset": -6,
    "font": "Liberation Serif", "fontSize": 26, "fontWeight": "bold", "color": "#000000", "lineHeight": 30.5,
    "subtitleFont": "Liberation Serif", "subtitleFontSize": 26, "subtitleFontWeight": "normal", "subtitleColor": "#000000", "subtitleLineHeight": 30.8, "subtitlePadding": 3
  }
}
]
}
